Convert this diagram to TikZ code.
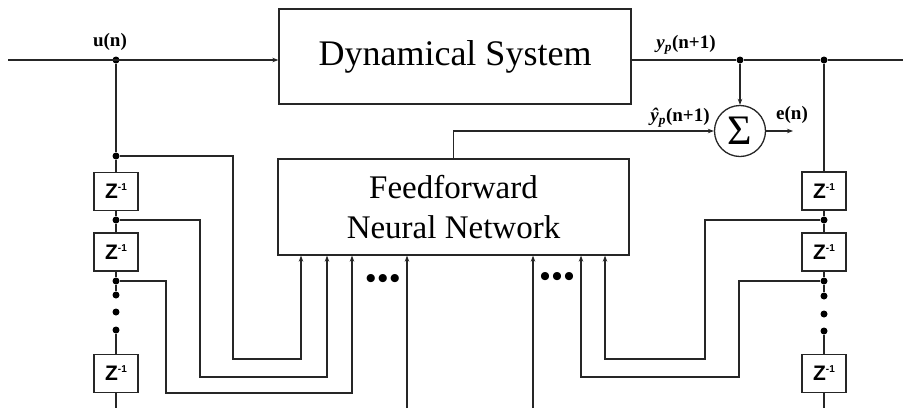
\documentclass[tikz,border=0pt]{standalone}
\usepackage{fontspec}
\setmainfont{Liberation Serif}
\newfontfamily\zfont{Liberation Sans}
\usetikzlibrary{arrows.meta}
\newcommand{\zinv}{Z\raisebox{8pt}{\fontsize{10}{10}\selectfont -1}}
\tikzset{
  ln/.style={line width=1.3pt, draw=black!85},
  arr/.style={ln, -{Stealth[length=6pt,width=4.5pt]}},
  blk/.style={draw=black!85, line width=1.3pt, rectangle, inner sep=0pt},
  zbox/.style={blk, minimum width=44pt, minimum height=38pt, font=\zfont\bfseries\fontsize{21}{21}\selectfont},
  dot/.style={circle, fill=black, inner sep=0pt, minimum size=7pt},
  lbl/.style={font=\bfseries\fontsize{19}{19}\selectfont, inner sep=0pt},
  ell/.style={font=\bfseries\fontsize{30}{30}\selectfont, inner sep=0pt},
}
\begin{document}
\begin{tikzpicture}[x=1pt,y=-1pt]
\useasboundingbox (0,0) rectangle (903,408);
% main blocks
\node[blk, minimum width=352pt, minimum height=95pt, font=\fontsize{36}{36}\selectfont] (ds) at (455,56.5) {Dynamical System};
\node[blk, minimum width=351pt, minimum height=96pt, align=center, font=\fontsize{33}{39.6}\selectfont] (nn) at (453.5,207) {Feedforward\\Neural Network};
\node[circle, draw=black!85, line width=1.3pt, minimum size=51pt, inner sep=0pt, font=\fontsize{42}{42}\selectfont] (sum) at (740,131) {\raisebox{-1pt}{Σ}};
% delay boxes
\node[zbox] (zl1) at (116,191.5) {\zinv};
\node[zbox] (zl2) at (116,252) {\zinv};
\node[zbox] (zl3) at (116,373.5) {\zinv};
\node[zbox] (zr1) at (824,191) {\zinv};
\node[zbox] (zr2) at (824,252) {\zinv};
\node[zbox] (zr3) at (824,373.5) {\zinv};
% junction dots
\node[dot] (j0) at (116,60) {};
\node[dot] (j1) at (740,60) {};
\node[dot] (j2) at (824,60) {};
\node[dot] (jl0) at (116,156) {};
\node[dot] (jl1) at (116,220) {};
\node[dot] (jl2) at (116,281) {};
\node[dot] (el1) at (116,295) {};
\node[dot] (el2) at (116,312) {};
\node[dot] (el3) at (116,330) {};
\node[dot] (jr1) at (824,220) {};
\node[dot] (jr2) at (824,281) {};
\node[dot] (er1) at (824,296) {};
\node[dot] (er2) at (824,314) {};
\node[dot] (er3) at (824,331) {};
% labels
\node[lbl] (lu) at (110,42) {u(n)};
\node[lbl] (ly) at (686,45) {\textit{y}\textsubscript{\textit{p}}(n+1)};
\node[lbl] (lyh) at (680,118) {\textit{ŷ}\textsubscript{\textit{p}}(n+1)};
\node[lbl] (le) at (792,115) {e(n)};
\node[ell] (d1) at (383,281) {•\kern1.5pt•\kern1.5pt•};
\node[ell] (d2) at (557,279) {•\kern1.5pt•\kern1.5pt•};
% free-end coordinates
\coordinate (in) at (8,60);
\coordinate (out) at (903,60);
\coordinate (eend) at (793,131);
\coordinate (lb) at (116,408);
\coordinate (rb) at (824,408);
\coordinate (b1) at (407,408);
\coordinate (b2) at (533,408);
\coordinate (i1) at (301,0);
\coordinate (i2) at (327,0);
\coordinate (i3) at (352,0);
\coordinate (i5) at (581,0);
\coordinate (i6) at (605,0);
% main signal path
\draw[arr] (in) -- (ds.west |- j0);
\draw[ln] (ds.east |- j0) -- (j1) -- (j2) -- (out);
\draw[arr] (j1) -- (sum.north);
\draw[arr] (nn.north) |- (sum.west);
\draw[arr] (sum.east) -- (eend);
% left tapped delay line
\draw[ln] (j0) -- (jl0) -- (zl1.north);
\draw[ln] (zl1.south) -- (jl1) -- (zl2.north);
\draw[ln] (zl2.south) -- (jl2) -- (el1);
\draw[ln] (el3) -- (zl3.north);
\draw[ln] (zl3.south) -- (lb);
\draw[arr] (jl0) -| (233,359) -| (nn.south -| i1);
\draw[arr] (jl1) -| (200,377) -| (nn.south -| i2);
\draw[arr] (jl2) -| (166,393) -| (nn.south -| i3);
% right tapped delay line
\draw[ln] (j2) -- (zr1.north);
\draw[ln] (zr1.south) -- (jr1) -- (zr2.north);
\draw[ln] (zr2.south) -- (jr2) -- (er1);
\draw[ln] (er3) -- (zr3.north);
\draw[ln] (zr3.south) -- (rb);
\draw[arr] (jr1) -| (705,359) -| (nn.south -| i6);
\draw[arr] (jr2) -| (739,377) -| (nn.south -| i5);
% external inputs
\draw[arr] (b1) -- (nn.south -| b1);
\draw[arr] (b2) -- (nn.south -| b2);
\end{tikzpicture}
\end{document}
